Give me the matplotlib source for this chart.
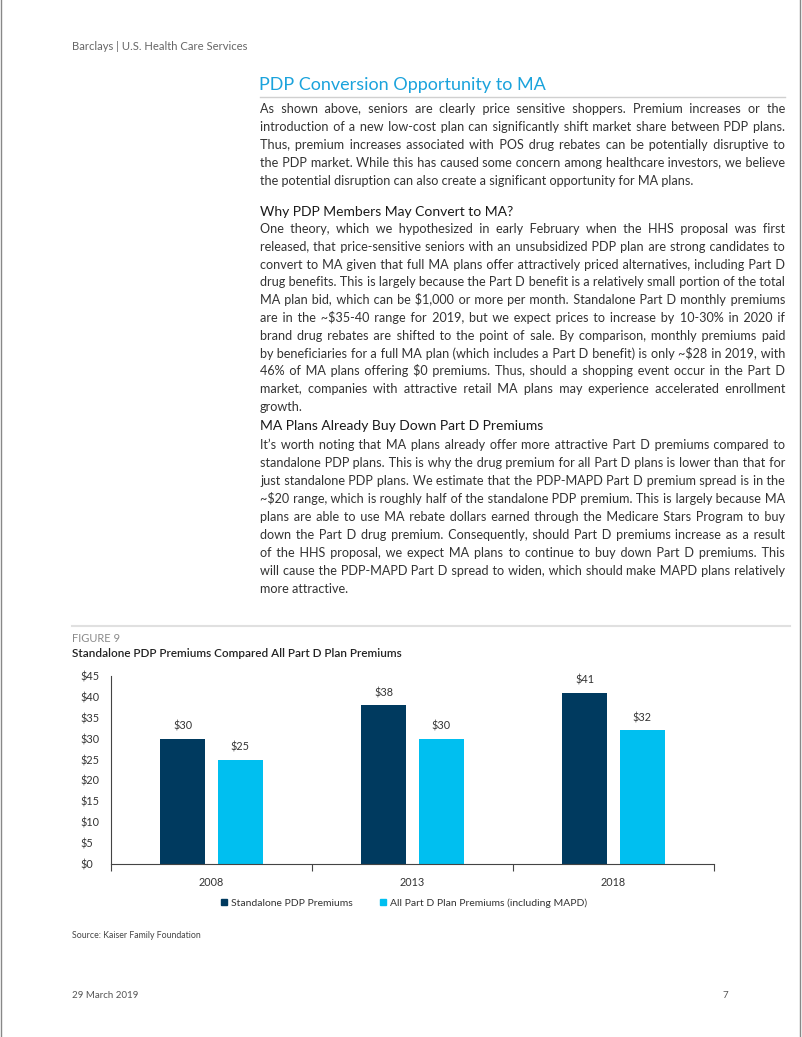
import numpy as np
import matplotlib
matplotlib.use("Agg")
import matplotlib.pyplot as plt
from matplotlib.patches import Patch
from matplotlib.lines import Line2D

plt.rcParams["font.family"] = ["Lato", "DejaVu Sans"]
plt.rcParams["text.parse_math"] = False

# Chart data
years = ["2008", "2013", "2018"]
standalone_pdp = [30, 38, 41]
all_part_d = [25, 30, 32]
series_names = ["Standalone PDP Premiums", "All Part D Plan Premiums (including MAPD)"]
y_ticks = [0, 5, 10, 15, 20, 25, 30, 35, 40, 45]

# Page text
header = "Barclays | U.S. Health Care Services"
section_title = "PDP Conversion Opportunity to MA"
para1 = [
    "As shown above, seniors are clearly price sensitive shoppers. Premium increases or the",
    "introduction of a new low-cost plan can significantly shift market share between PDP plans.",
    "Thus, premium increases associated with POS drug rebates can be potentially disruptive to",
    "the PDP market. While this has caused some concern among healthcare investors, we believe",
    "the potential disruption can also create a significant opportunity for MA plans.",
]
heading2 = "Why PDP Members May Convert to MA?"
para2 = [
    "One theory, which we hypothesized in early February when the HHS proposal was first",
    "released, that price-sensitive seniors with an unsubsidized PDP plan are strong candidates to",
    "convert to MA given that full MA plans offer attractively priced alternatives, including Part D",
    "drug benefits. This is largely because the Part D benefit is a relatively small portion of the total",
    "MA plan bid, which can be $1,000 or more per month. Standalone Part D monthly premiums",
    "are in the ~$35-40 range for 2019, but we expect prices to increase by 10-30% in 2020 if",
    "brand drug rebates are shifted to the point of sale. By comparison, monthly premiums paid",
    "by beneficiaries for a full MA plan (which includes a Part D benefit) is only ~$28 in 2019, with",
    "46% of MA plans offering $0 premiums. Thus, should a shopping event occur in the Part D",
    "market, companies with attractive retail MA plans may experience accelerated enrollment",
    "growth.",
]
heading3 = "MA Plans Already Buy Down Part D Premiums"
para3 = [
    "It\u2019s worth noting that MA plans already offer more attractive Part D premiums compared to",
    "standalone PDP plans. This is why the drug premium for all Part D plans is lower than that for",
    "just standalone PDP plans. We estimate that the PDP-MAPD Part D premium spread is in the",
    "~$20 range, which is roughly half of the standalone PDP premium. This is largely because MA",
    "plans are able to use MA rebate dollars earned through the Medicare Stars Program to buy",
    "down the Part D drug premium. Consequently, should Part D premiums increase as a result",
    "of the HHS proposal, we expect MA plans to continue to buy down Part D premiums. This",
    "will cause the PDP-MAPD Part D spread to widen, which should make MAPD plans relatively",
    "more attractive.",
]

DARK = "#003A5F"
LIGHT = "#00BFF0"
BLUE_TITLE = "#1BA3DC"
TEXT = "#333333"
NARROW = ["Liberation Sans Narrow", "Lato", "DejaVu Sans"]
THIN, HAIR = "\u2009", "\u200a"

W, H = 802, 1037
fig = plt.figure(figsize=(W / 100, H / 100), dpi=100)
renderer = fig.canvas.get_renderer()


def fx(x):
    return x / W


def fy(y):
    return 1 - y / H


def text_w(s, size):
    t = fig.text(0, 0, s, fontsize=size)
    w = t.get_window_extent(renderer).width
    t.remove()
    return w


def justify(lines, x0, x1, y0, step, size, color=TEXT):
    # one text per line; word gaps widened with thin/hair spaces to fill x0..x1
    thin_w = text_w("a" + THIN + "b", size) - text_w("ab", size)
    hair_w = text_w("a" + HAIR + "b", size) - text_w("ab", size)
    for i, line in enumerate(lines):
        y = y0 + i * step
        words = line.split()
        if i < len(lines) - 1 and len(words) > 1:
            extra = (x1 - x0) - text_w(" ".join(words), size)
            per_gap = extra / (len(words) - 1)
            out, done = words[0], 0.0
            for k, w in enumerate(words[1:]):
                target = per_gap * (k + 1)
                pad = ""
                while done + thin_w <= target:
                    pad += THIN
                    done += thin_w
                while hair_w > 0 and done + hair_w * 0.5 <= target:
                    pad += HAIR
                    done += hair_w
                out += " " + pad + w
            line = out
        fig.text(fx(x0), fy(y), line, fontsize=size, color=color, va="baseline")


# page border
fig.add_artist(Line2D([fx(1), fx(1)], [0, 1], color="#888888", lw=1))
fig.add_artist(Line2D([fx(800), fx(800)], [0, 1], color="#888888", lw=1))

# header
fig.text(fx(72), fy(50), header, fontsize=8.1, color="#666666", va="baseline")

# section title + rule
fig.text(fx(259), fy(90), section_title, fontsize=13, color=BLUE_TITLE, va="baseline")
fig.add_artist(Line2D([fx(260), fx(785)], [fy(96.5), fy(96.5)], color="#d0d0d0", lw=1))

# body size: largest size at which every full line still fits the column
full_lines = para1[:-1] + para2[:-1] + para3[:-1]
widest = max(text_w(s, 10) for s in full_lines)
body_size = 10 * 522 / widest

justify(para1, 260, 785, 113, 18.0, body_size)
fig.text(fx(260), fy(216), heading2, fontsize=10, color="#1a1a1a", va="baseline")
justify(para2, 260, 785, 233, 17.8, body_size)
fig.text(fx(260), fy(430), heading3, fontsize=10, color="#1a1a1a", va="baseline")
justify(para3, 260, 785, 448.5, 18.1, body_size)

# figure header
fig.add_artist(Line2D([fx(72), fx(790)], [fy(626), fy(626)], color="#e0e0e0", lw=1.5))
fig.text(fx(72), fy(642), "FIGURE 9", fontsize=8, color="#8a8a8a", va="baseline")
fig.text(fx(72), fy(657), "Standalone PDP Premiums Compared All Part D Plan Premiums",
         fontsize=8.5, color="#222222", va="baseline", fontweight="semibold")

# chart
ax = fig.add_axes([fx(111), fy(864), (714 - 111) / W, (864 - 676) / H])
x = np.arange(len(years))
bw = 0.224
off = 0.144
b1 = ax.bar(x - off, standalone_pdp, bw, color=DARK)
b2 = ax.bar(x + off, all_part_d, bw, color=LIGHT)
for bars, vals in [(b1, standalone_pdp), (b2, all_part_d)]:
    for rect, v in zip(bars, vals):
        ax.annotate(f"${v}", (rect.get_x() + rect.get_width() / 2, v), xytext=(0, 5),
                    textcoords="offset points", ha="center", va="bottom",
                    fontsize=7.8, color="#333333", family=NARROW)

ax.set_xlim(-0.5, len(years) - 0.5)
ax.set_ylim(0, 45)
ax.set_yticks(y_ticks)
ax.set_yticklabels([f"${v}" for v in y_ticks], family=NARROW, fontsize=7.8, color="#333333")
ax.set_xticks(x)
ax.set_xticklabels(years, family=NARROW, fontsize=7.8, color="#333333")
ax.set_xticks(np.arange(len(years) + 1) - 0.5, minor=True)
ax.tick_params(axis="x", which="major", length=0, pad=9)
ax.tick_params(axis="x", which="minor", length=5, width=0.8, color="#444444")
ax.tick_params(axis="y", length=0, pad=22)
for lab in ax.get_yticklabels():
    lab.set_horizontalalignment("left")
for side in ["top", "right"]:
    ax.spines[side].set_visible(False)
for side in ["left", "bottom"]:
    ax.spines[side].set_color("#444444")
    ax.spines[side].set_linewidth(0.8)

handles = [Patch(color=DARK), Patch(color=LIGHT)]
fig.legend(handles, series_names, loc="center", bbox_to_anchor=(fx(404), fy(903)), ncol=2,
           frameon=False, handlelength=0.6, handleheight=0.6, handletextpad=0.4,
           columnspacing=2.6, fontsize=7.5, labelcolor="#333333")

fig.text(fx(72), fy(938), "Source: Kaiser Family Foundation", fontsize=6.3, color="#444444", va="baseline")

# footer
fig.text(fx(72), fy(998), "29 March 2019", fontsize=7, color="#555555", va="baseline", family=NARROW)
fig.text(fx(728), fy(998), "7", fontsize=7, color="#555555", va="baseline", ha="right", family=NARROW)

fig.savefig("out.png", dpi=100)
